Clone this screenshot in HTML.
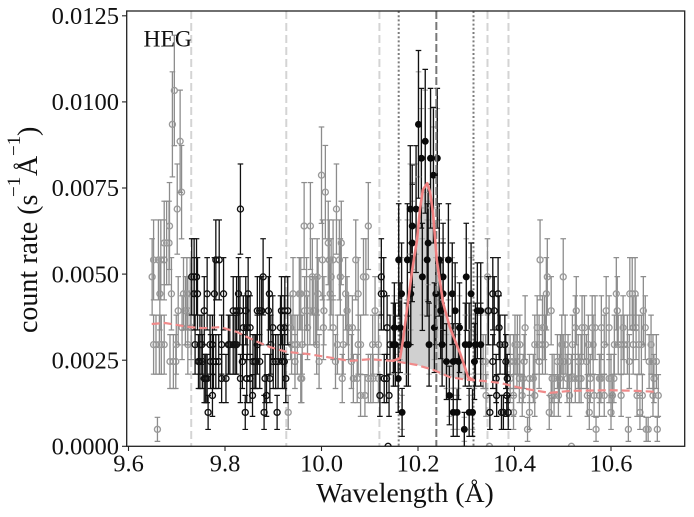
<!DOCTYPE html>
<html lang="en">
<head>
<meta charset="utf-8">
<title>HEG count rate versus wavelength</title>
<style>
html,body{margin:0;padding:0;background:#fff;}
svg{display:block;}
text{font-family:"Liberation Serif","DejaVu Serif",serif;fill:#111;}
</style>
</head>
<body>
<svg id="chart" xmlns="http://www.w3.org/2000/svg" width="694" height="517" viewBox="0 0 694 517">
<defs><clipPath id="plot-clip"><rect x="126.7" y="11" width="558" height="435.3"/></clipPath></defs>
<g id="shade-layer" clip-path="url(#plot-clip)"></g>
<g id="vline-layer" clip-path="url(#plot-clip)"></g>
<g id="grey-layer" clip-path="url(#plot-clip)"></g>
<g id="black-layer" clip-path="url(#plot-clip)"></g>
<g id="filled-layer" clip-path="url(#plot-clip)"></g>
<g id="center-layer" clip-path="url(#plot-clip)"></g>
<g id="model-layer" clip-path="url(#plot-clip)"></g>
<g id="axis-layer"></g>
<text x="143.5" y="46.5" font-size="23.5">HEG</text>
<text x="405" y="502" font-size="27.8" text-anchor="middle">Wavelength (Å)</text>
<g transform="translate(37,333) rotate(-90)">
<text x="0" y="0" font-size="28">count rate (s</text>
<text x="136" y="-17" font-size="19">−1</text>
<text x="157" y="0" font-size="28">Å</text>
<text x="177" y="-17" font-size="19">−1</text>
<text x="197" y="0" font-size="28">)</text>
</g>
</svg>
<script>
const xTickValues = [9.6, 9.8, 10.0, 10.2, 10.4, 10.6];
const xTickLabels = ['9.6', '9.8', '10.0', '10.2', '10.4', '10.6'];
const yTickValues = [0, 0.0025, 0.005, 0.0075, 0.01, 0.0125];
const yTickLabels = ['0.0000', '0.0025', '0.0050', '0.0075', '0.0100', '0.0125'];

const greyWave = [
10.348,10.518,
9.660,10.427,10.569,10.636,10.673,10.677,10.696,
9.931,10.398,10.431,10.472,10.555,10.600,10.660,
10.081,10.090,10.341,10.398,10.416,10.442,10.476,10.482,10.491,10.514,10.551,10.565,10.576,10.586,10.603,10.621,10.654,10.665,10.687,10.698,
9.957,9.959,10.043,10.066,10.074,10.097,10.102,10.107,10.118,10.391,10.410,10.418,10.431,10.439,10.478,10.482,10.493,10.509,10.518,10.526,10.534,10.538,10.557,10.576,10.579,10.596,10.600,10.606,10.689,
9.686,9.693,9.698,9.945,9.995,10.029,10.062,10.335,10.340,10.391,10.398,10.405,10.420,10.451,10.489,10.495,10.501,10.511,10.532,10.538,10.549,10.638,10.679,10.687,10.694,
9.652,9.657,9.664,9.668,9.674,9.699,9.723,9.938,9.945,9.950,9.960,9.990,10.033,10.045,10.076,10.081,10.106,10.118,10.401,10.406,10.411,10.442,10.451,10.458,10.464,10.498,10.505,10.520,10.553,10.563,10.586,10.607,10.615,10.621,10.627,10.634,10.646,10.658,10.663,10.683,
9.711,9.730,9.936,9.971,10.004,10.024,10.056,10.064,10.422,10.447,10.458,10.462,10.526,10.540,10.545,10.561,10.567,10.580,10.596,10.625,10.646,10.652,10.671,
9.703,9.718,9.723,9.965,9.976,9.984,9.988,10.005,10.053,10.111,10.344,10.476,10.528,10.590,10.613,10.667,
9.665,9.689,9.714,9.721,9.728,9.941,9.954,9.957,9.969,9.993,10.018,10.050,10.076,10.466,10.611,10.639,10.644,10.650,
9.649,9.981,9.991,10.020,10.039,10.087,10.092,10.344,10.468,10.501,
9.652,9.662,9.667,9.674,10.002,10.016,10.024,10.037,10.071,10.453,
9.674,9.679,9.684,10.014,10.041,
9.685,9.964,9.977,10.097,
9.701,10.031,
9.710,10.008,
10.000,
9.707,
9.691,
9.695
];
const greyCount = [
0,0,
1,1,1,1,1,1,1,
2,2,2,2,2,2,2,
3,3,3,3,3,3,3,3,3,3,3,3,3,3,3,3,3,3,3,3,
4,4,4,4,4,4,4,4,4,4,4,4,4,4,4,4,4,4,4,4,4,4,4,4,4,4,4,4,4,
5,5,5,5,5,5,5,5,5,5,5,5,5,5,5,5,5,5,5,5,5,5,5,5,5,
6,6,6,6,6,6,6,6,6,6,6,6,6,6,6,6,6,6,6,6,6,6,6,6,6,6,6,6,6,6,6,6,6,6,6,6,6,6,6,6,
7,7,7,7,7,7,7,7,7,7,7,7,7,7,7,7,7,7,7,7,7,7,7,
8,8,8,8,8,8,8,8,8,8,8,8,8,8,8,8,
9,9,9,9,9,9,9,9,9,9,9,9,9,9,9,9,9,9,
10,10,10,10,10,10,10,10,10,10,
11,11,11,11,11,11,11,11,11,11,
12,12,12,12,12,
13,13,13,13,
14,14,
15,15,
16,
18,
19,
21
];

const blackWave = [
10.138,
9.765,9.842,9.881,9.908,10.349,10.373,10.377,10.387,
9.774,9.857,9.886,10.121,10.140,10.363,10.384,
9.757,9.760,9.763,9.793,9.802,9.832,9.845,9.852,9.883,9.893,9.926,10.130,10.135,10.362,10.385,
9.745,9.748,9.753,9.770,9.776,9.781,9.787,9.836,9.858,9.862,9.864,9.872,9.900,9.905,9.910,9.919,9.923,10.355,10.382,
9.738,9.748,9.752,9.769,9.774,9.793,9.807,9.810,9.817,9.821,9.824,9.867,9.895,10.142,10.370,10.380,
9.838,9.846,9.852,9.899,9.915,9.923,10.136,10.368,
9.757,9.817,9.824,9.831,9.843,9.867,9.872,9.876,9.890,9.917,9.924,9.930,10.346,10.358,
9.736,9.743,9.763,9.778,9.797,9.828,9.848,9.892,10.124,10.129,10.355,10.366,
9.731,9.736,9.741,9.879,10.124,
9.781,9.788,
9.832
];
const blackCount = [
0,
2,2,2,2,2,2,2,2,
3,3,3,3,3,3,3,
4,4,4,4,4,4,4,4,4,4,4,4,4,4,4,
5,5,5,5,5,5,5,5,5,5,5,5,5,5,5,5,5,5,5,
6,6,6,6,6,6,6,6,6,6,6,6,6,6,6,6,
7,7,7,7,7,7,7,7,
8,8,8,8,8,8,8,8,8,8,8,8,8,8,
9,9,9,9,9,9,9,9,9,9,9,9,
10,10,10,10,10,
11,11,
14
];

const filledWave = [
10.296,
10.167,10.273,10.281,10.306,10.313,
10.265,
10.159,
10.259,10.273,10.284,10.317,
10.149,10.153,10.176,10.180,10.223,10.250,10.298,10.306,10.319,10.330,
10.151,10.163,10.234,10.286,
10.247,10.277,10.323,10.330,
10.166,10.185,10.237,10.252,10.271,10.310,
10.209,10.252,10.300,
10.160,10.178,10.219,10.244,10.263,
10.188,10.221,
10.188,
10.184,10.196,
10.232,
10.207,10.226,10.240,
10.215,
10.201
];
const filledCount = [
1,
2,2,2,2,2,
3,
4,
5,5,5,5,
6,6,6,6,6,6,6,6,6,6,
7,7,7,7,
8,8,8,8,
9,9,9,9,9,9,
10,10,10,
11,11,11,11,11,
12,12,
13,
14,14,
16,
17,17,17,
18,
19
];

const continuumWave = [9.648,9.676,9.727,9.754,9.790,9.825,9.858,9.893,9.928,9.972,10.024,10.059,10.100,10.148,10.198,10.231,10.266,10.302,10.335,10.370,10.405,10.426,10.473,10.515,10.598,10.654,10.697];
const continuumRate = [0.00355,0.00358,0.00346,0.00343,0.00346,0.00332,0.00309,0.00288,0.00274,0.00268,0.00256,0.00248,0.00253,0.00248,0.00236,0.00222,0.00201,0.00193,0.00190,0.00184,0.00172,0.00166,0.00155,0.00161,0.00163,0.00161,0.00158];
const lineWave = [10.148,10.163,10.169,10.179,10.188,10.198,10.204,10.210,10.219,10.225,10.231,10.239,10.252,10.266,10.287,10.304,10.314];
const lineRate = [0.00248,0.00256,0.00309,0.00416,0.00512,0.00599,0.00686,0.00744,0.00764,0.00738,0.00677,0.00541,0.00416,0.00346,0.00271,0.00201,0.00193];

const regionEdges = [9.73, 9.927, 10.12, 10.344, 10.3875];
const windowEdges = [10.16, 10.315];
const lineCenter = [10.238];

const ratePerCount = 0.000492;
const sigmaPerRootCount = 0.00035;
const poissonPerRootCount = 0.000492;

const NS = 'http://www.w3.org/2000/svg';
function xScale(w) { return 128.5 + (w - 9.6) * 482.5; }
function yScale(r) { return 446.3 - r * 34440; }
function mk(tag, attrs, parent) {
  const el = document.createElementNS(NS, tag);
  for (const k in attrs) el.setAttribute(k, attrs[k]);
  parent.appendChild(el);
  return el;
}
function errorBar(parent, x, rate, err, color, width, capColor) {
  const yTop = yScale(rate + err);
  const yBot = yScale(rate - err);
  const bar = mk('line', {x1: x, x2: x, y1: yTop, y2: yBot, stroke: color, 'stroke-width': width}, parent);
  
  
  const capA = mk('line', {x1: x - 2.8, x2: x + 2.8, y1: yTop, y2: yTop, stroke: capColor, 'stroke-width': 1.2}, parent);
  
  
  const capB = mk('line', {x1: x - 2.8, x2: x + 2.8, y1: yBot, y2: yBot, stroke: capColor, 'stroke-width': 1.2}, parent);
  
  
}
function drawOpen(layerId, waves, counts, lineColor, markColor, label) {
  const layer = document.getElementById(layerId);
  waves.forEach(function (w, i) {
    const n = counts[i];
    const x = xScale(w);
    const rate = n * ratePerCount;
    const g = mk('g', {}, layer);
    
    
    errorBar(g, x, rate, Math.sqrt(n) * sigmaPerRootCount, lineColor, 1.3, lineColor);
    const c = mk('circle', {cx: x, cy: yScale(rate), r: 3.0, fill: 'none', stroke: markColor, 'stroke-width': 1.35}, g);
    
    
  });
}
function drawFilled(layerId, waves, counts) {
  const layer = document.getElementById(layerId);
  waves.forEach(function (w, i) {
    const n = counts[i];
    const g = mk('g', {}, layer);
    
    
    const x = xScale(w);
    const rate = n * ratePerCount;
    errorBar(g, x, rate, Math.sqrt(n) * sigmaPerRootCount, '#999', 1.2, '#aaa');
    errorBar(g, x, rate, Math.sqrt(n) * poissonPerRootCount, '#111', 1.35, '#111');
  });
  waves.forEach(function (w, i) {
    const c = mk('circle', {cx: xScale(w), cy: yScale(counts[i] * ratePerCount), r: 3.5, fill: '#0a0a0a'}, layer);
    
    
  });
}
function polyPoints(ws, rs) {
  return ws.map(function (w, i) { return xScale(w).toFixed(1) + ',' + yScale(rs[i]).toFixed(1); });
}

const vLayer = document.getElementById('vline-layer');
regionEdges.forEach(function (w) {
  const l = mk('line', {x1: xScale(w), x2: xScale(w), y1: 11, y2: 446, stroke: '#d4d4d4', 'stroke-width': 2, 'stroke-dasharray': '8,4'}, vLayer);
  
  
});
windowEdges.forEach(function (w) {
  const l = mk('line', {x1: xScale(w), x2: xScale(w), y1: 11, y2: 446, stroke: '#7c7c7c', 'stroke-width': 2, 'stroke-dasharray': '2,2.2'}, vLayer);
  
  
});

const fillWave = lineWave.concat(continuumWave.filter(function (w) { return w > lineWave[0] && w < lineWave[lineWave.length - 1]; }).reverse());
const fillRate = lineRate.concat(continuumRate.filter(function (r, i) { return continuumWave[i] > lineWave[0] && continuumWave[i] < lineWave[lineWave.length - 1]; }).reverse());
const shade = mk('polygon', {points: polyPoints(fillWave, fillRate).join(' '), fill: '#d0d0d0'}, document.getElementById('shade-layer'));



drawOpen('grey-layer', greyWave, greyCount, '#8c8c8c', '#9a9a9a', 'grey-point');
drawOpen('black-layer', blackWave, blackCount, '#111', '#111', 'black-point');
drawFilled('filled-layer', filledWave, filledCount);

lineCenter.forEach(function (w) {
  const l = mk('line', {x1: xScale(w), x2: xScale(w), y1: 11, y2: 446, stroke: '#777', 'stroke-width': 2, 'stroke-dasharray': '8,3'}, document.getElementById('center-layer'));
  
  
});

const modelLayer = document.getElementById('model-layer');
const contLine = mk('polyline', {points: polyPoints(continuumWave, continuumRate).join(' '), fill: 'none', stroke: '#f08a8a', 'stroke-width': 2.2, 'stroke-dasharray': '8,4'}, modelLayer);


const peakLine = mk('polyline', {points: polyPoints(lineWave, lineRate).join(' '), fill: 'none', stroke: '#f08080', 'stroke-width': 2.6, 'stroke-linejoin': 'round'}, modelLayer);



const axis = document.getElementById('axis-layer');
const frame = mk('rect', {x: 126.7, y: 11, width: 558, height: 435.3, fill: 'none', stroke: '#222', 'stroke-width': 1.3}, axis);


xTickValues.forEach(function (v, i) {
  const x = xScale(v);
  const t = mk('line', {x1: x, x2: x, y1: 446.3, y2: 451, stroke: '#222', 'stroke-width': 1.1}, axis);
  
  
  const label = mk('text', {x: x, y: 471.5, 'font-size': 24.5, 'text-anchor': 'middle'}, axis);
  label.textContent = xTickLabels[i];
  
  
});
yTickValues.forEach(function (v, i) {
  const y = yScale(v);
  const t = mk('line', {x1: 122, x2: 126.7, y1: y, y2: y, stroke: '#222', 'stroke-width': 1.1}, axis);
  
  
  const label = mk('text', {x: 119, y: y + 8.2, 'font-size': 24.5, 'text-anchor': 'end'}, axis);
  label.textContent = yTickLabels[i];
  
  
});
</script>
</body>
</html>
